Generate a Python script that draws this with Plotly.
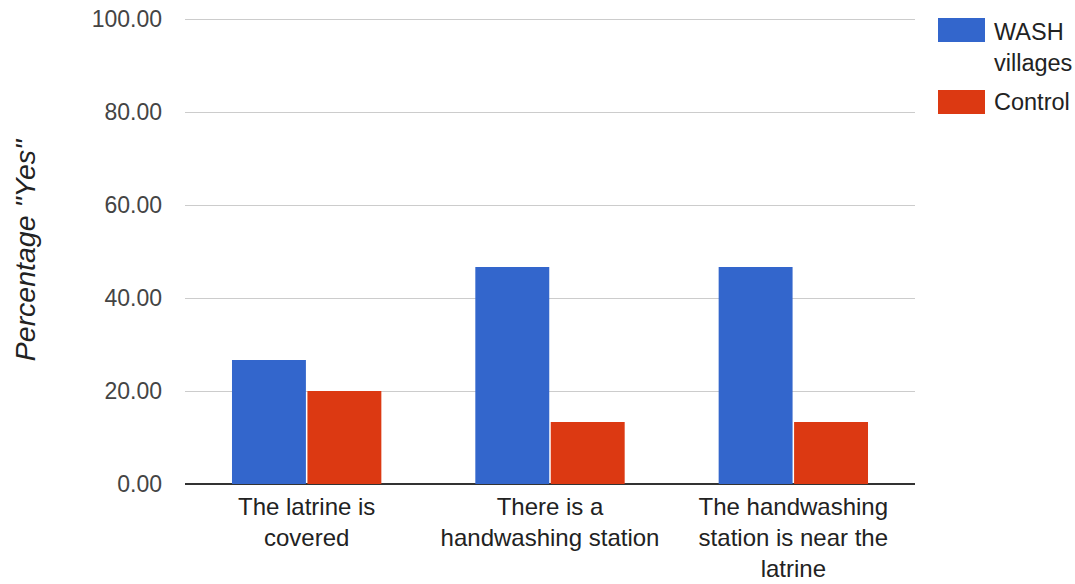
import plotly.graph_objects as go

categories = [
    "The latrine is<br>covered",
    "There is a<br>handwashing station",
    "The handwashing<br>station is near the<br>latrine",
]
series_names = ["WASH villages", "Control"]
legend_labels = ["WASH<br>villages", "Control"]
wash_values = [26.67, 46.67, 46.67]
control_values = [20.00, 13.33, 13.33]
colors = ["#3366CC", "#DC3912"]

FONT = "Liberation Sans, Arial, sans-serif"

# plot area in pixels (used to place the hand-drawn legend)
PL, PR, PT, PB = 185, 915, 17, 484

fig = go.Figure()
for name, vals, col in zip(series_names, [wash_values, control_values], colors):
    fig.add_trace(go.Bar(x=categories, y=vals, name=name, marker=dict(color=col, line=dict(width=0)),
                         showlegend=False))

def px_x(x):
    return (x - PL) / (PR - PL)

def px_y(y):
    return (PB - y) / (PB - PT)

# legend: swatches and labels to the right of the plot
swatch_tops = [18, 90]
label_tops = [17, 87]
for col, lab, top, ly in zip(colors, legend_labels, swatch_tops, label_tops):
    fig.add_shape(type="rect", xref="paper", yref="paper",
                  x0=px_x(938), x1=px_x(985), y0=px_y(top + 24), y1=px_y(top),
                  fillcolor=col, line=dict(width=0))
    fig.add_annotation(text=lab, xref="paper", yref="paper",
                       x=px_x(992), y=px_y(ly),
                       xanchor="left", yanchor="top", align="left", showarrow=False,
                       font=dict(family=FONT, size=23.5, color="#222222"))

fig.update_layout(
    width=1075, height=584,
    margin=dict(l=PL, r=1075 - PR, t=PT, b=584 - PB),
    paper_bgcolor="white", plot_bgcolor="white",
    barmode="group", bargap=0.38, bargroupgap=0.02,
    font=dict(family=FONT, size=23, color="#222222"),
    xaxis=dict(showgrid=False, showline=False, ticks="", ticklabelstandoff=6, automargin=False,
               tickfont=dict(size=24, color="#222222")),
    yaxis=dict(range=[0, 100.43], tickvals=[0, 20, 40, 60, 80, 100], tickformat=".2f",
               showgrid=True, gridcolor="#cccccc", automargin=False,
               gridwidth=1, zeroline=True, zerolinecolor="#333333", zerolinewidth=2,
               ticks="", ticklabelstandoff=22, tickfont=dict(size=23, color="#444444"),
               title=dict(text='<i>Percentage "Yes"</i>', standoff=47,
                          font=dict(size=28.5, color="#222222"))),
)

fig.write_html("out.html")
